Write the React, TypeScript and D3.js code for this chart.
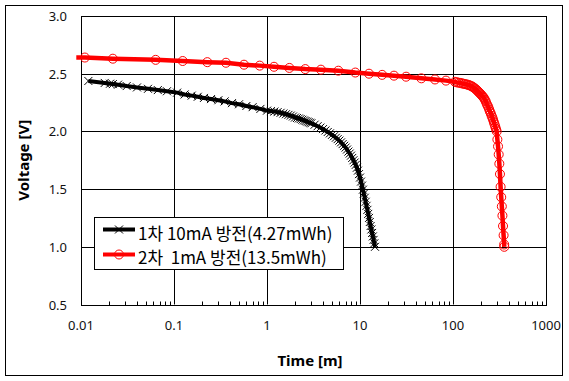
import React from "react";
import * as d3 from "d3";

// ---- data ----
const seriesNames = ["1차 10mA 방전(4.27mWh)", "2차  1mA 방전(13.5mWh)"];

const blackTime = [
  0.012, 0.018, 0.0205, 0.022, 0.025, 0.031, 0.04, 0.0525, 0.067, 0.084, 0.108,
  0.13, 0.155, 0.18, 0.21, 0.25, 0.3, 0.35, 0.42, 0.5, 0.6, 0.7, 0.85,
  1.0, 1.1, 1.2, 1.3, 1.4, 1.5, 1.6, 1.7, 1.8, 1.9, 2.0, 2.1, 2.2, 2.3, 2.4, 2.5, 2.6, 2.7, 2.8, 2.9,
  3.0, 3.25, 3.5, 3.75, 4.0, 4.25, 4.5, 4.75,
  5.0, 5.25, 5.5, 5.75, 6.0, 6.25, 6.5, 6.75, 7.0, 7.25, 7.5, 7.75, 8.0, 8.25, 8.5, 8.75,
  9.0, 9.25, 9.5, 9.75, 10.0, 10.25, 10.5, 10.75, 11.0, 11.25, 11.5, 11.75, 12.0, 12.25,
  12.5, 12.75, 13.0, 13.25, 13.5, 13.75, 14.0, 14.25, 14.5,
];
const blackVoltage = [
  2.437, 2.42, 2.413, 2.41, 2.405, 2.393, 2.381, 2.369, 2.358, 2.348, 2.336,
  2.32, 2.31, 2.3, 2.29, 2.28, 2.27, 2.26, 2.245, 2.235, 2.22, 2.21, 2.195,
  2.18, 2.176, 2.172, 2.167, 2.161, 2.155, 2.149, 2.143, 2.137, 2.129, 2.12, 2.116, 2.112, 2.107, 2.101, 2.095, 2.09, 2.085, 2.08, 2.075,
  2.07, 2.058, 2.045, 2.033, 2.02, 2.008, 1.995, 1.983,
  1.97, 1.958, 1.945, 1.933, 1.92, 1.905, 1.89, 1.875, 1.86, 1.843, 1.825, 1.808, 1.79, 1.77, 1.75, 1.73,
  1.71, 1.685, 1.66, 1.63, 1.6, 1.565, 1.53, 1.495, 1.46, 1.425, 1.39, 1.355, 1.32, 1.285,
  1.25, 1.215, 1.18, 1.15, 1.12, 1.09, 1.06, 1.03, 1.0,
];

const redTime = [
  0.0089, 0.011, 0.022, 0.0635, 0.124, 0.228, 0.362, 0.566, 0.835, 1.19, 1.74, 2.58, 3.8, 5.85,
  8.9, 12.5, 17.3, 23.2, 31.3, 45.7, 64, 84, 105,
  110, 115, 120, 125, 130, 135, 140, 145, 150, 155, 160, 165, 170, 175, 180, 185, 190, 195,
  200, 205, 210, 215, 220, 225, 230, 235, 240, 245, 250, 255, 260, 265, 270, 275, 280, 285,
  290, 295, 300, 305, 310, 315, 320, 325, 330, 335, 340, 345, 350, 355, 356,
];
const redVoltage = [
  2.64, 2.64, 2.63, 2.62, 2.61, 2.6, 2.595, 2.578, 2.57, 2.56, 2.55, 2.54, 2.535, 2.526,
  2.51, 2.5, 2.49, 2.483, 2.474, 2.46, 2.45, 2.44, 2.43,
  2.425, 2.422, 2.42, 2.416, 2.413, 2.41, 2.407, 2.404, 2.4, 2.395, 2.39, 2.383, 2.375, 2.367, 2.358, 2.348, 2.338, 2.33,
  2.32, 2.31, 2.3, 2.29, 2.275, 2.26, 2.24, 2.225, 2.21, 2.19, 2.17, 2.155, 2.135, 2.12, 2.1, 2.08, 2.06, 2.04,
  2.02, 2.0, 1.93, 1.87, 1.8, 1.72, 1.63, 1.52, 1.43, 1.35, 1.27, 1.18, 1.1, 1.02, 1.0,
];

const xTicks = [0.01, 0.1, 1, 10, 100, 1000];
const xTickLabels = ["0.01", "0.1", "1", "10", "100", "1000"];
const yTicks = [0.5, 1.0, 1.5, 2.0, 2.5, 3.0];
const yTickLabels = ["0.5", "1.0", "1.5", "2.0", "2.5", "3.0"];

const W = 569;
const H = 381;
const plot = { left: 81, right: 546, top: 16, bottom: 304.5 };

export default function App() {
  const x = d3.scaleLog().domain([0.01, 1000]).range([plot.left, plot.right]);
  const y = d3.scaleLinear().domain([0.5, 3.0]).range([plot.bottom, plot.top]);
  const snap = (v: number) => Math.round(v) + 0.5;

  const black = blackTime.map((t, i) => [t, blackVoltage[i]] as [number, number]);
  const red = redTime.map((t, i) => [t, redVoltage[i]] as [number, number]);
  const line = d3
    .line<[number, number]>()
    .x((d) => x(d[0]))
    .y((d) => y(d[1]));

  const minor: number[] = [];
  for (let e = -2; e < 3; e++) {
    for (let k = 2; k <= 9; k++) minor.push(k * Math.pow(10, e));
  }

  const latin = "'Noto Sans', 'DejaVu Sans', sans-serif";
  const kr = "'Noto Sans CJK KR', 'Noto Sans', sans-serif";

  const xMark = (cx: number, cy: number, s: number, key: any) => (
    <path
      key={key}
      d={`M${cx - s},${cy - s}L${cx + s},${cy + s}M${cx - s},${cy + s}L${cx + s},${cy - s}`}
      stroke="#000"
      strokeWidth={1}
      fill="none"
    />
  );

  return (
    <svg
      width={W}
      height={H}
      style={{ position: "absolute", left: 0, top: 0, background: "#fff" }}
    >
      <defs>
        <clipPath id="plotClip">
          <rect
            x={plot.left}
            y={plot.top - 6}
            width={plot.right - plot.left + 6}
            height={plot.bottom - plot.top + 12}
          />
        </clipPath>
      </defs>
      <rect x={5.5} y={5.5} width={557} height={370} fill="#fff" stroke="#000" strokeWidth={1} />

      {/* gridlines */}
      {yTicks.slice(1, -1).map((v) => (
        <line
          key={"gy" + v}
          x1={plot.left}
          x2={plot.right}
          y1={snap(y(v))}
          y2={snap(y(v))}
          stroke="#000"
          strokeWidth={1}
        />
      ))}
      {xTicks.slice(1, -1).map((v) => (
        <line
          key={"gx" + v}
          x1={snap(x(v))}
          x2={snap(x(v))}
          y1={plot.top}
          y2={plot.bottom}
          stroke="#000"
          strokeWidth={1}
        />
      ))}
      {/* minor ticks */}
      {minor.map((v) => (
        <line
          key={"m" + v}
          x1={snap(x(v))}
          x2={snap(x(v))}
          y1={snap(plot.bottom)}
          y2={snap(plot.bottom) - 4}
          stroke="#000"
          strokeWidth={1}
        />
      ))}
      <rect
        x={snap(plot.left)}
        y={snap(plot.top)}
        width={Math.round(plot.right) - Math.round(plot.left)}
        height={Math.round(plot.bottom) - Math.round(plot.top)}
        fill="none"
        stroke="#000"
        strokeWidth={1}
      />

      {/* tick labels */}
      {yTicks.map((v, i) => (
        <text
          key={"yl" + v}
          x={67}
          y={y(v)}
          textAnchor="end"
          dominantBaseline="central"
          fontFamily={latin}
          fontSize={13}
          fill="#111"
        >
          {yTickLabels[i]}
        </text>
      ))}
      {xTicks.map((v, i) => (
        <text
          key={"xl" + v}
          x={x(v)}
          y={325}
          textAnchor="middle"
          dominantBaseline="central"
          fontFamily={latin}
          fontSize={13}
          fill="#111"
        >
          {xTickLabels[i]}
        </text>
      ))}

      {/* axis titles */}
      <text
        x={310}
        y={360}
        textAnchor="middle"
        dominantBaseline="central"
        fontFamily={latin}
        fontWeight="bold"
        fontSize={15}
      >
        Time [m]
      </text>
      <text
        transform={`translate(23,${(plot.top + plot.bottom) / 2}) rotate(-90)`}
        textAnchor="middle"
        dominantBaseline="central"
        fontFamily={latin}
        fontWeight="bold"
        fontSize={15}
      >
        Voltage [V]
      </text>

      {/* series */}
      <path d={line(black) || ""} fill="none" stroke="#000" strokeWidth={4} strokeLinejoin="round" />
      <g clipPath="url(#plotClip)">
        {black.map((d, i) => xMark(x(d[0]), y(d[1]), 4, "bm" + i))}
      </g>
      <path d={line(red) || ""} fill="none" stroke="#ff0000" strokeWidth={4.5} strokeLinejoin="round" />
      <g clipPath="url(#plotClip)">
        {red.map((d, i) => (
          <circle
            key={"rm" + i}
            cx={x(d[0])}
            cy={y(d[1])}
            r={4.5}
            fill="none"
            stroke="#ff0000"
            strokeWidth={1}
          />
        ))}
      </g>

      {/* legend */}
      <rect x={94.5} y={217.5} width={249} height={52} fill="#fff" stroke="#000" strokeWidth={1} />
      <line x1={103} x2={135} y1={229.5} y2={229.5} stroke="#000" strokeWidth={4} />
      {xMark(119, 229.5, 4, "lgx")}
      <line x1={103} x2={135} y1={254.5} y2={254.5} stroke="#ff0000" strokeWidth={4} />
      <circle cx={119} cy={254.5} r={4.5} fill="none" stroke="#ff0000" strokeWidth={1} />
      <text
        x={138}
        y={232}
        dominantBaseline="central"
        fontFamily={kr}
        fontSize={17}
        style={{ whiteSpace: "pre" }}
      >
        {seriesNames[0]}
      </text>
      <text
        x={138}
        y={256}
        dominantBaseline="central"
        fontFamily={kr}
        fontSize={17}
        style={{ whiteSpace: "pre" }}
      >
        {seriesNames[1]}
      </text>
    </svg>
  );
}
